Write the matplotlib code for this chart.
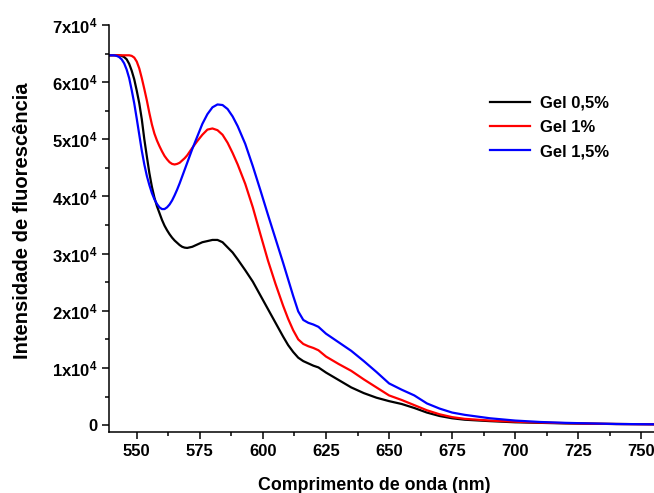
"""
Fluorescence spectra of the gels (Gel 0,5% / 1% / 1,5%).
"""
import matplotlib
matplotlib.use("Agg")
import matplotlib.pyplot as plt
from matplotlib.ticker import MultipleLocator, FuncFormatter

plt.rcParams["font.family"] = ["Liberation Sans", "DejaVu Sans"]
plt.rcParams["font.weight"] = "bold"
plt.rcParams["mathtext.default"] = "regular"

# wavelength grid (nm)
wavelength = [539, 540, 541, 542, 543, 544, 545, 546, 547, 548, 549, 550, 551, 552, 553,
              554, 555, 556, 557, 558, 559, 560, 561, 562, 563, 564, 565, 566, 567, 568,
              569, 570, 572, 574, 576, 578, 580, 582, 584, 586, 588, 590, 593, 596, 599,
              602, 605, 608, 610, 612, 614, 616, 618, 620, 622, 625, 630, 635, 640, 645,
              650, 655, 660, 665, 670, 675, 680, 690, 700, 710, 720, 730, 740, 755]

# intensities in units of 1e3 counts
gel_05 = [64.7, 64.7, 64.7, 64.7, 64.7, 64.6, 64.4, 64.0, 63.2, 62.0, 60.5, 58.5, 56.3, 53.5, 50.0,
          47.0, 44.1, 41.7, 39.8, 38.3, 37.1, 35.9, 34.9, 34.1, 33.4, 32.8, 32.3, 31.9, 31.5, 31.2,
          31.05, 31.0, 31.2, 31.6, 32.0, 32.2, 32.4, 32.4, 32.0, 31.1, 30.2, 29.0, 27.1, 25.1, 22.7,
          20.3, 17.9, 15.5, 14.0, 12.8, 11.8, 11.2, 10.8, 10.4, 10.1, 9.2, 7.9, 6.6, 5.6, 4.8,
          4.2, 3.7, 3.0, 2.2, 1.6, 1.2, 0.95, 0.7, 0.5, 0.4, 0.3, 0.25, 0.2, 0.15]
gel_1 = [64.7, 64.7, 64.7, 64.7, 64.7, 64.7, 64.7, 64.7, 64.7, 64.6, 64.3, 63.6, 62.4, 60.7, 58.8,
         56.8, 54.6, 52.6, 51.0, 49.8, 48.8, 47.9, 47.1, 46.5, 46.0, 45.7, 45.6, 45.7, 45.9, 46.3,
         46.7, 47.2, 48.5, 49.7, 50.8, 51.7, 51.9, 51.6, 50.8, 49.4, 47.6, 45.6, 42.2, 38.1, 33.4,
         28.8, 24.7, 20.9, 18.6, 16.6, 15.0, 14.2, 13.8, 13.5, 13.1, 12.0, 10.7, 9.5, 8.0, 6.6,
         5.2, 4.4, 3.5, 2.6, 1.9, 1.4, 1.1, 0.8, 0.6, 0.45, 0.35, 0.25, 0.2, 0.15]
gel_15 = [64.7, 64.7, 64.7, 64.6, 64.4, 64.0, 63.3, 62.2, 60.7, 58.6, 56.3, 53.6, 50.8, 48.0, 45.6,
          43.6, 42.0, 40.6, 39.5, 38.7, 38.1, 37.8, 37.8, 38.1, 38.6, 39.3, 40.2, 41.2, 42.3, 43.5,
          44.7, 45.9, 48.3, 50.5, 52.7, 54.4, 55.6, 56.1, 56.0, 55.3, 54.0, 52.3, 49.2, 45.3, 41.1,
          36.8, 32.6, 28.4, 25.5, 22.6, 19.9, 18.4, 17.9, 17.6, 17.2, 16.0, 14.5, 13.0, 11.2, 9.3,
          7.3, 6.2, 5.2, 3.8, 2.9, 2.2, 1.8, 1.2, 0.8, 0.55, 0.4, 0.3, 0.2, 0.15]

labels = ["Gel 0,5%", "Gel 1%", "Gel 1,5%"]
colors = ["black", "#ff0000", "#0000ff"]

fig = plt.figure(figsize=(6.54, 4.93), dpi=100)
ax = fig.add_axes([109 / 654, 61 / 493, 545 / 654, 407 / 493])

for series, label, color in zip([gel_05, gel_1, gel_15], labels, colors):
    ax.plot(wavelength, [v * 1000 for v in series], color=color, lw=1.6, label=label)

ax.set_xlim(539, 755)
ax.set_ylim(-1200, 70000)
ax.xaxis.set_major_locator(MultipleLocator(25))
ax.xaxis.set_minor_locator(MultipleLocator(12.5))
ax.yaxis.set_major_locator(MultipleLocator(10000))
ax.yaxis.set_minor_locator(MultipleLocator(5000))
ax.yaxis.set_major_formatter(FuncFormatter(
    lambda v, _: "0" if v == 0 else f"{int(round(v / 1e4))}x10$^4$"))

for side in ["top", "right"]:
    ax.spines[side].set_visible(False)
for side in ["left", "bottom"]:
    ax.spines[side].set_linewidth(1.1)
ax.tick_params(which="major", direction="out", length=5, width=1.1, labelsize=12)
ax.tick_params(which="minor", direction="out", length=3, width=1.1)
for t in ax.get_xticklabels() + ax.get_yticklabels():
    t.set_fontweight("bold")

ax.set_xlabel("Comprimento de onda (nm)", fontsize=12.8, fontweight="bold", labelpad=13)
ax.set_ylabel("Intensidade de fluorescência", fontsize=14.5, fontweight="bold", labelpad=14)
# labels sit a little off-centre in the original
ax.xaxis.label.set_x(0.487)
ax.yaxis.label.set_y(0.518)

ax.legend(loc="upper left", bbox_to_anchor=(490 / 654, 1 - 96 / 493),
          bbox_transform=fig.transFigure, frameon=False,
          handlelength=2.4, handletextpad=0.6, labelspacing=0.55,
          borderpad=0, borderaxespad=0, prop={"weight": "bold", "size": 12})

fig.savefig("out.png", dpi=100)
plt.close(fig)
